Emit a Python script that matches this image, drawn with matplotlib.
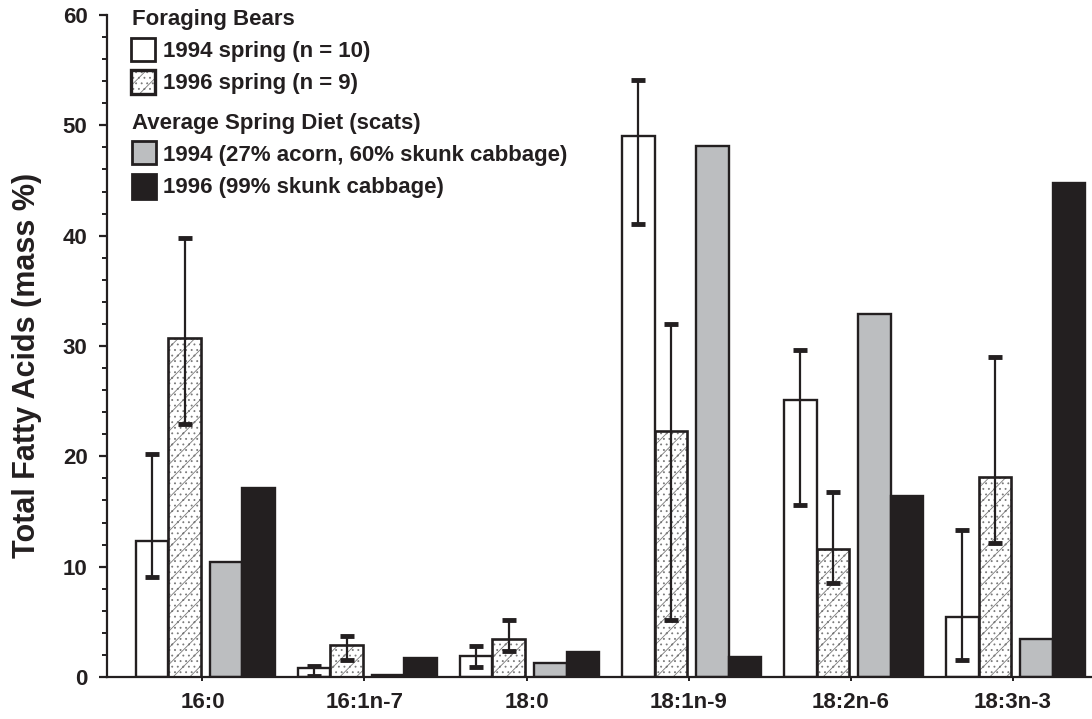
import numpy as np
import matplotlib
matplotlib.use("Agg")  # Non-interactive backend
import matplotlib.pyplot as plt
from matplotlib.patches import Rectangle
from matplotlib.ticker import MultipleLocator

plt.rcParams["font.family"] = ["Liberation Sans", "DejaVu Sans"]
plt.rcParams["font.weight"] = "bold"
plt.rcParams["hatch.linewidth"] = 0.6

INK = "#231f20"
GREY = "#bcbec0"
STIPPLE = "#7a7a7a"

acids = ["16:0", "16:1n-7", "18:0", "18:1n-9", "18:2n-6", "18:3n-3"]

# Foraging bears, mean with error bar ends (low / high)
bears_1994 = [12.3, 0.8, 1.9, 49.0, 25.1, 5.4]
bears_1994_lo = [9.1, 0.1, 0.9, 41.1, 15.6, 1.5]
bears_1994_hi = [20.2, 1.0, 2.8, 54.1, 29.6, 13.3]

bears_1996 = [30.7, 2.9, 3.4, 22.3, 11.6, 18.1]
bears_1996_lo = [22.9, 1.5, 2.4, 5.2, 8.5, 12.1]
bears_1996_hi = [39.8, 3.7, 5.2, 32.0, 16.8, 29.0]

# Average spring diet from scats
diet_1994 = [10.4, 0.2, 1.3, 48.1, 32.9, 3.4]
diet_1996 = [17.1, 1.7, 2.3, 1.8, 16.4, 44.8]

legend_bears = ["1994 spring (n = 10)", "1996 spring (n = 9)"]
legend_diet = ["1994 (27% acorn, 60% skunk cabbage)", "1996 (99% skunk cabbage)"]

W = 0.2
x = np.arange(len(acids))
x_w94 = x
x_w96 = x + W
x_d94 = x + 0.457
x_d96 = x_d94 + W

fig = plt.figure(figsize=(10.92, 7.19), dpi=100)
ax = fig.add_axes([107 / 1092, 42 / 719, 985 / 1092, 662 / 719])

# bears 1994: open bars
ax.bar(x_w94, bears_1994, W, align="edge", facecolor="white",
       edgecolor=INK, linewidth=1.7, zorder=2)
# bears 1996: stippled bars, hatch first then the outline on top
ax.bar(x_w96, bears_1996, W, align="edge", facecolor="white",
       edgecolor=STIPPLE, linewidth=0, hatch="//...", zorder=2)
ax.bar(x_w96, bears_1996, W, align="edge", fill=False,
       edgecolor=INK, linewidth=1.9, zorder=2)
# diet bars
ax.bar(x_d94, diet_1994, W, align="edge", facecolor=GREY,
       edgecolor=INK, linewidth=1.7, zorder=2)
ax.bar(x_d96, diet_1996, W, align="edge", facecolor=INK,
       edgecolor=INK, linewidth=1.7, zorder=2)

for xs, v, lo, hi in [(x_w94, bears_1994, bears_1994_lo, bears_1994_hi),
                      (x_w96, bears_1996, bears_1996_lo, bears_1996_hi)]:
    v, lo, hi = np.array(v), np.array(lo), np.array(hi)
    ax.errorbar(xs + W / 2, v, yerr=[v - lo, hi - v], fmt="none",
                ecolor=INK, elinewidth=1.6, capsize=5, capthick=3.5, zorder=3)

ax.set_xlim(-0.179, 5.9)
ax.set_ylim(0, 60)

ax.set_xticks(x + 0.41)
ax.set_xticklabels(acids)
ax.tick_params(axis="x", length=3, width=1.4, pad=8, labelsize=16,
               colors=INK)
ax.yaxis.set_major_locator(MultipleLocator(10))
ax.yaxis.set_minor_locator(MultipleLocator(2))
ax.tick_params(axis="y", which="major", length=6, width=1.6, pad=8,
               labelsize=16, colors=INK)
ax.tick_params(axis="y", which="minor", length=3.5, width=1.4, colors=INK)

for side in ("top", "right"):
    ax.spines[side].set_visible(False)
for side in ("left", "bottom"):
    ax.spines[side].set_linewidth(1.6)
    ax.spines[side].set_color(INK)

ax.set_ylabel("Total Fatty Acids (mass %)", fontsize=22, fontweight="bold",
              color=INK)
ax.yaxis.set_label_coords(-0.066, 0.47)


# legend, drawn by hand in pixel units of the figure
def px(xp, yp):
    return xp / 1092, 1 - yp / 719


def legend_box(x0, y0, x1, y1, **kw):
    (fx0, fy1), (fx1, fy0) = px(x0, y0), px(x1, y1)
    fig.patches.append(Rectangle((fx0, fy0), fx1 - fx0, fy1 - fy0,
                                 transform=fig.transFigure, **kw))


def legend_text(xp, yp, s):
    fig.text(*px(xp, yp), s, fontsize=16, color=INK, va="center",
             ha="left")


legend_text(132, 19, "Foraging Bears")
legend_box(131, 38, 155, 61, facecolor="white", edgecolor=INK, linewidth=2)
legend_text(163, 51, legend_bears[0])
legend_box(131, 70, 155, 94, facecolor="white", edgecolor=STIPPLE,
           linewidth=0, hatch="//...")
legend_box(131, 70, 155, 94, fill=False, edgecolor=INK, linewidth=2.4)
legend_text(163, 83, legend_bears[1])

legend_text(132, 124, "Average Spring Diet (scats)")
legend_box(132, 141, 156, 164, facecolor=GREY, edgecolor=INK, linewidth=2)
legend_text(163, 155, legend_diet[0])
legend_box(132, 174, 156, 199, facecolor=INK, edgecolor=INK, linewidth=2)
legend_text(163, 187, legend_diet[1])

fig.savefig("out.png", dpi=100)
plt.close(fig)
